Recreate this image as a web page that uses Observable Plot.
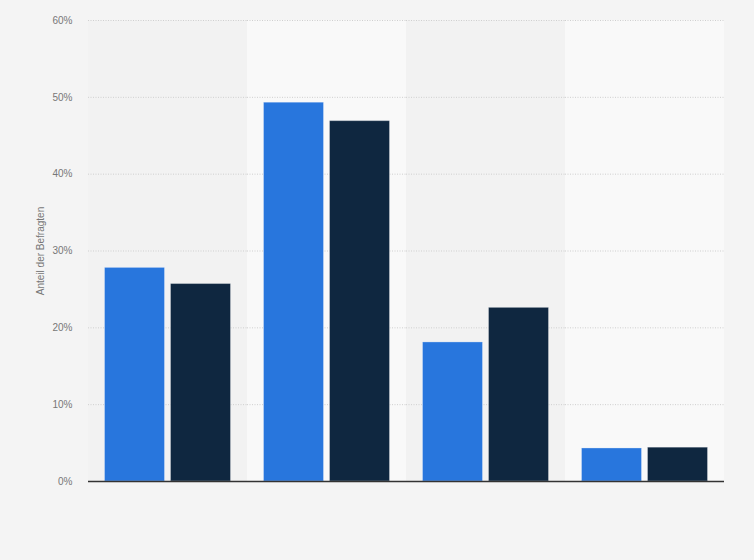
<!DOCTYPE html>
<html>
<head>
<meta charset="utf-8">
<script src="https://cdn.jsdelivr.net/npm/d3@7"></script>
<script src="https://cdn.jsdelivr.net/npm/@observablehq/plot@0.6"></script>
<style>
  html, body { margin: 0; padding: 0; background: #f4f4f4; }
  #chart svg { display: block; font-family: "Liberation Sans", Arial, sans-serif; }
</style>
</head>
<body>
<div id="chart"></div>
<script>
const groups = ["Gruppe 1", "Gruppe 2", "Gruppe 3", "Gruppe 4"];
const series = ["Serie 1", "Serie 2"];
const seriesA = [27.8, 49.3, 18.1, 4.3];
const seriesB = [25.7, 46.9, 22.6, 4.4];
const yTicks = [0, 10, 20, 30, 40, 50, 60];

const data = groups.flatMap((g, i) => [
  {group: g, series: series[0], value: seriesA[i]},
  {group: g, series: series[1], value: seriesB[i]}
]);

const chart = Plot.plot({
  width: 754,
  height: 560,
  marginLeft: 88,
  marginRight: 30,
  marginTop: 20,
  marginBottom: 79,
  style: {background: "#f4f4f4", fontFamily: "Liberation Sans, Arial, sans-serif"},
  fx: {domain: groups, padding: 0, axis: null, label: null},
  x: {domain: series, paddingInner: 0.0909, paddingOuter: 0.25, round: false, axis: null, label: null},
  y: {domain: [0, 60], label: "Anteil der Befragten"},
  color: {domain: series, range: ["#2876dd", "#0f2740"]},
  marks: [
    Plot.rect(groups.filter((d, i) => i % 2 === 0), {fx: d => d, fill: "#f2f2f2"}),
    Plot.rect(groups.filter((d, i) => i % 2 === 1), {fx: d => d, fill: "#f9f9f9"}),
    Plot.gridY(yTicks.filter(t => t > 0), {stroke: "#cfcfcf", strokeOpacity: 1, strokeDasharray: "1,1.5"}),
    Plot.axisY(yTicks, {
      tickSize: 0,
      tickPadding: 16,
      tickFormat: d => d + "%",
      fontSize: 10,
      fill: "#777",
      label: "Anteil der Befragten",
      labelAnchor: "center",
      labelArrow: "none",
      labelOffset: 52
    }),
    Plot.barY(data, {
      fx: "group",
      x: "series",
      y: "value",
      fill: "series",
      stroke: "white",
      strokeOpacity: 0.3,
      strokeWidth: 1
    }),
    Plot.ruleY([0], {stroke: "#333", strokeWidth: 1.5})
  ]
});

document.getElementById("chart").appendChild(chart);
</script>
</body>
</html>
